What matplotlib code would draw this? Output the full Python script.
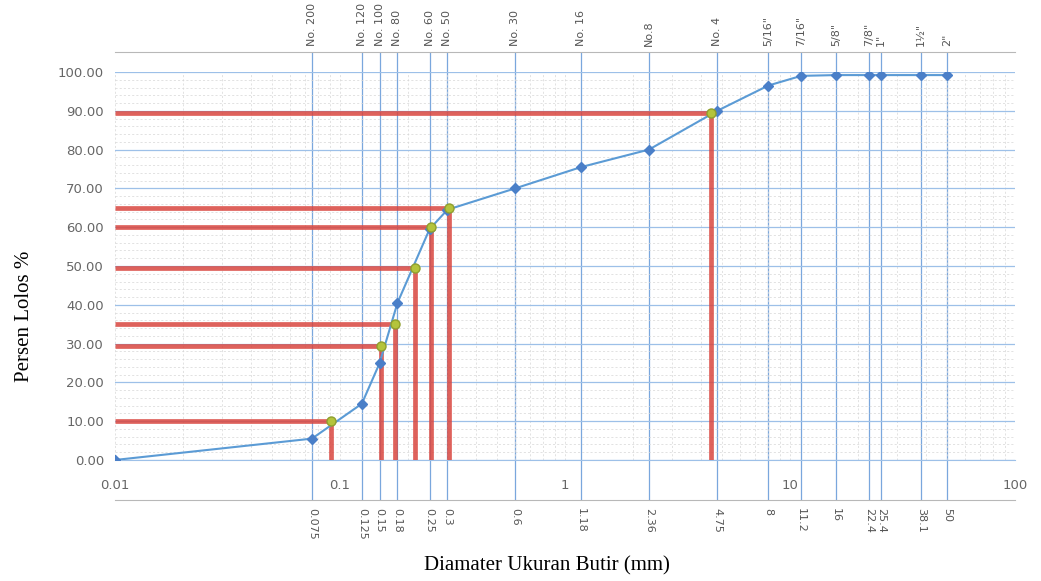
import matplotlib.pyplot as plt
from matplotlib.ticker import FixedLocator, LogLocator, NullFormatter, MultipleLocator

# grading curve (sieve size in mm vs percent passing)
size_mm = [0.01, 0.075, 0.125, 0.15, 0.18, 0.25, 0.3, 0.6, 1.18, 2.36, 4.75,
           8, 11.2, 16, 22.4, 25.4, 38.1, 50]
passing = [0.0, 5.5, 14.5, 25.0, 40.5, 59.5, 64.5, 70.0, 75.5, 80.0, 90.0,
           96.5, 99.0, 99.2, 99.2, 99.2, 99.2, 99.2]

# D-values
d_size = [0.091, 0.152, 0.175, 0.215, 0.254, 0.305, 4.45]
d_pass = [10.0, 29.5, 35.0, 49.5, 60.0, 65.0, 89.5]

# sieve axis
sieve_mm = [0.075, 0.125, 0.15, 0.18, 0.25, 0.3, 0.6, 1.18, 2.36, 4.75,
            8, 11.2, 16, 22.4, 25.4, 38.1, 50]
sieve_mm_labels = ['0.075', '0.125', '0.15', '0.18', '0.25', '0.3', '0.6', '1.18',
                   '2.36', '4.75', '8', '11.2', '16', '22.4', '25.4', '38.1', '50']
sieve_names = ['No. 200', 'No. 120', 'No. 100', 'No. 80', 'No. 60', 'No. 50',
               'No. 30', 'No. 16', 'No.8', 'No. 4', '5/16"', '7/16"', '5/8"',
               '7/8"', '1"', '1½"', '2"']

fig = plt.figure(figsize=(10.41, 5.81), dpi=100)

# back axes: sieve lines with labels top and bottom
ax2 = fig.add_axes([0.1105, 0.1394, 0.8646, 0.7711])
ax2.set_xscale('log')
ax2.set_xlim(0.01, 100)
ax2.set_ylim(0, 1)
ax2.set_yticks([])
ax2.xaxis.set_major_locator(FixedLocator(sieve_mm))
ax2.xaxis.set_minor_locator(FixedLocator([]))
ax2.set_xticklabels(sieve_mm_labels, rotation=-90, fontsize=8, color='#555555')
ax2.tick_params(axis='x', length=0, pad=6)
ax2.grid(axis='x', color='#7aa7dd', lw=0.9)
for s in ['left', 'right']:
    ax2.spines[s].set_visible(False)
for s in ['top', 'bottom']:
    ax2.spines[s].set_color('#b8b8b8')
    ax2.spines[s].set_linewidth(0.8)

ax3 = ax2.twiny()
ax3.set_xscale('log')
ax3.set_xlim(0.01, 100)
ax3.xaxis.set_major_locator(FixedLocator(sieve_mm))
ax3.xaxis.set_minor_locator(FixedLocator([]))
ax3.set_xticklabels(sieve_names, rotation=90, fontsize=8, color='#555555')
ax3.tick_params(axis='x', length=0, pad=4)
for s in ax3.spines.values():
    s.set_visible(False)

# main axes
ax = fig.add_axes([0.1105, 0.2083, 0.8646, 0.6678])
ax.patch.set_alpha(0)
ax.set_xscale('log')
ax.set_xlim(0.01, 100)
ax.set_ylim(0, 100)
ax.yaxis.set_major_locator(MultipleLocator(10))
ax.yaxis.set_minor_locator(MultipleLocator(2))
ax.yaxis.set_major_formatter(lambda v, p: f'{v:.2f}')
ax.xaxis.set_major_locator(LogLocator(base=10))
ax.xaxis.set_minor_locator(LogLocator(base=10, subs=range(2, 10)))
ax.xaxis.set_minor_formatter(NullFormatter())
ax.xaxis.set_major_formatter(lambda v, p: f'{v:g}')
ax.tick_params(axis='both', which='both', length=0, labelsize=9.5, colors='#666666')
ax.tick_params(axis='x', pad=14)
ax.tick_params(axis='y', pad=8)
ax.grid(axis='y', which='major', color='#9dc0e8', lw=0.9)
ax.grid(axis='y', which='minor', color='#d6d6d6', lw=0.5, ls=(0, (3, 3)))
ax.grid(axis='x', which='both', color='#d6d6d6', lw=0.5, ls=(0, (3, 3)))
for s in ['top', 'right', 'left']:
    ax.spines[s].set_visible(False)
ax.spines['bottom'].set_color('#9dc0e8')

# red guide lines for D-values
ax.hlines(d_pass, 0.01, d_size, color='#d9463f', lw=3.4, alpha=0.85, zorder=3)
ax.vlines(d_size, 0, d_pass, color='#d9463f', lw=3.4, alpha=0.85, zorder=3)

ax.plot(size_mm, passing, color='#5b9bd5', lw=1.5, marker='D', markersize=5,
        markerfacecolor='#4a7fc8', markeredgecolor='#4a7fc8', zorder=4)
ax.plot(d_size, d_pass, ls='none', marker='o', markersize=6.5,
        markerfacecolor='#b4c43c', markeredgecolor='#8f9f2e', zorder=5)

fig.text(0.024, 0.455, 'Persen Lolos %', rotation=90, ha='center', va='center',
         fontsize=15, family='Liberation Serif')
fig.text(0.525, 0.026, 'Diamater Ukuran Butir (mm)', ha='center', va='center',
         fontsize=15, family='Liberation Serif')

fig.savefig('out.png', dpi=100)
